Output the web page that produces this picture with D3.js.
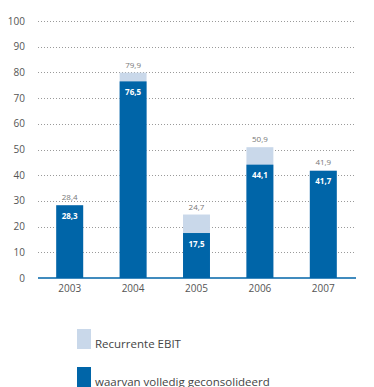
<!DOCTYPE html>
<html>
<head>
<meta charset="utf-8">
<script src="https://cdn.jsdelivr.net/npm/d3@7"></script>
<style>
    body { margin: 0; background: #fff; }
    text { font-family: "Open Sans", "Noto Sans", sans-serif; }
</style>
</head>
<body>
<svg id="chart" width="374" height="387"></svg>
<script>
// chart data
var years = ["2003", "2004", "2005", "2006", "2007"];
var recurrentEbit = [28.4, 79.9, 24.7, 50.9, 41.9];
var consolidated = [28.3, 76.5, 17.5, 44.1, 41.7];
var yTicks = [0, 10, 20, 30, 40, 50, 60, 70, 80, 90, 100];
var legendLabels = ["Recurrente EBIT", "waarvan volledig geconsolideerd"];

var lightBlue = "#c9d8ea";
var darkBlue = "#0065a8";

var svg = d3.select("#chart");
var nl = d3.formatLocale({ decimal: ",", thousands: ".", grouping: [3], currency: ["€", ""] });
var fmt = nl.format(".1f");

var x = d3.scaleBand()
    .domain(years)
    .range([38, 355])
    .paddingInner(0.575)
    .paddingOuter(0.2875);

var y = d3.scaleLinear()
    .domain([0, 100])
    .range([278, 21]);

// grid lines
svg.append("g")
    .selectAll("line")
    .data(yTicks.filter(function (d) { return d > 0; }))
    .join("line")
    .attr("x1", 38)
    .attr("x2", 355)
    .attr("y1", function (d) { return Math.round(y(d)) + 0.5; })
    .attr("y2", function (d) { return Math.round(y(d)) + 0.5; })
    .attr("stroke", "#9a9a9a")
    .attr("stroke-width", 1)
    .attr("stroke-dasharray", "1,2");

// y labels
svg.append("g")
    .selectAll("text")
    .data(yTicks)
    .join("text")
    .attr("x", 25)
    .attr("y", function (d) { return y(d) + 3.5; })
    .attr("text-anchor", "end")
    .attr("font-size", 10)
    .attr("fill", "#555")
    .text(function (d) { return d; });

// light bars (total)
svg.append("g")
    .selectAll("rect")
    .data(years)
    .join("rect")
    .attr("x", function (d) { return x(d); })
    .attr("width", x.bandwidth())
    .attr("y", function (d, i) { return y(recurrentEbit[i]); })
    .attr("height", function (d, i) { return y(0) - y(recurrentEbit[i]); })
    .attr("fill", lightBlue);

// dark bars
svg.append("g")
    .selectAll("rect")
    .data(years)
    .join("rect")
    .attr("x", function (d) { return x(d); })
    .attr("width", x.bandwidth())
    .attr("y", function (d, i) { return y(consolidated[i]); })
    .attr("height", function (d, i) { return y(0) - y(consolidated[i]); })
    .attr("fill", darkBlue);

// baseline
svg.append("line")
    .attr("x1", 38)
    .attr("x2", 356)
    .attr("y1", y(0))
    .attr("y2", y(0))
    .attr("stroke", darkBlue)
    .attr("stroke-width", 1.5);

// total labels
svg.append("g")
    .selectAll("text")
    .data(years)
    .join("text")
    .attr("x", function (d) { return x(d) + x.bandwidth() / 2; })
    .attr("y", function (d, i) { return y(recurrentEbit[i]) - 5; })
    .attr("text-anchor", "middle")
    .attr("font-size", 8)
    .attr("fill", "#777")
    .text(function (d, i) { return fmt(recurrentEbit[i]); });

// inner labels
svg.append("g")
    .selectAll("text")
    .data(years)
    .join("text")
    .attr("x", function (d) { return x(d) + x.bandwidth() / 2; })
    .attr("y", function (d, i) { return y(consolidated[i]) + 13.5; })
    .attr("text-anchor", "middle")
    .attr("font-size", 8)
    .attr("font-weight", "bold")
    .attr("fill", "#fff")
    .text(function (d, i) { return fmt(consolidated[i]); });

// x labels
svg.append("g")
    .selectAll("text")
    .data(years)
    .join("text")
    .attr("x", function (d) { return x(d) + x.bandwidth() / 2; })
    .attr("y", 292)
    .attr("text-anchor", "middle")
    .attr("font-size", 10)
    .attr("fill", "#555")
    .text(function (d) { return d; });

// legend
var legend = svg.append("g")
    .selectAll("g")
    .data(legendLabels)
    .join("g")
    .attr("transform", function (d, i) { return "translate(77," + (329 + i * 38) + ")"; });

legend.append("rect")
    .attr("width", 14)
    .attr("height", 20)
    .attr("fill", function (d, i) { return i == 0 ? lightBlue : darkBlue; });

legend.append("text")
    .attr("x", 18)
    .attr("y", 19)
    .attr("font-size", 11.5)
    .attr("fill", "#444")
    .text(function (d) { return d; });
</script>
</body>
</html>
